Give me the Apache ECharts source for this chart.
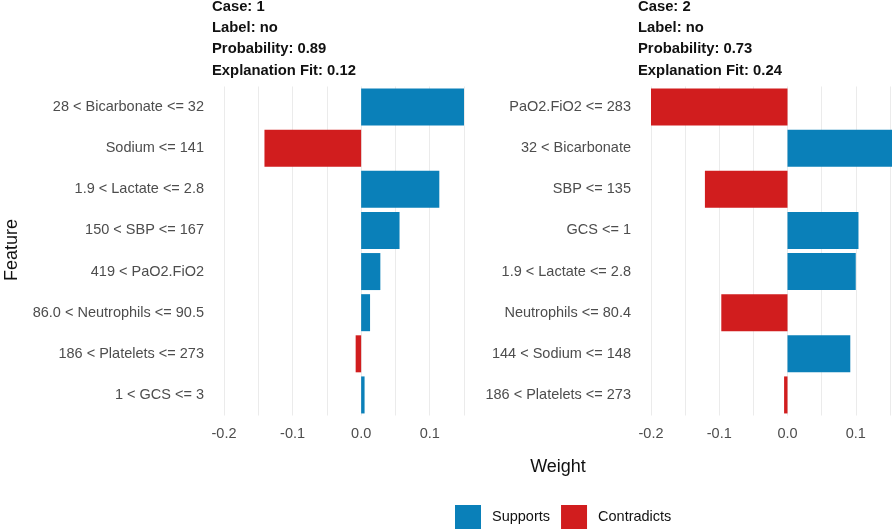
<!DOCTYPE html>
<html lang="en">
<head>
    <meta charset="UTF-8">
    <title>LIME explanations</title>
    <script src="https://cdn.jsdelivr.net/npm/echarts@6/dist/echarts.min.js"></script>
    <style>
        html, body { margin: 0; padding: 0; background: #fff; }
        #chart { width: 892px; height: 532px; }
    </style>
</head>
<body>
<div id="chart"></div>
<script>
    // case 1
    const case1Features = ['28 < Bicarbonate <= 32', 'Sodium <= 141', '1.9 < Lactate <= 2.8', '150 < SBP <= 167',
        '419 < PaO2.FiO2', '86.0 < Neutrophils <= 90.5', '186 < Platelets <= 273', '1 < GCS <= 3'];
    const case1Weights = [0.150, -0.141, 0.114, 0.056, 0.028, 0.013, -0.008, 0.005];
    const case1Title = ['Case: 1', 'Label: no', 'Probability: 0.89', 'Explanation Fit: 0.12'];

    // case 2
    const case2Features = ['PaO2.FiO2 <= 283', '32 < Bicarbonate', 'SBP <= 135', 'GCS <= 1',
        '1.9 < Lactate <= 2.8', 'Neutrophils <= 80.4', '144 < Sodium <= 148', '186 < Platelets <= 273'];
    const case2Weights = [-0.200, 0.155, -0.121, 0.104, 0.100, -0.097, 0.092, -0.005];
    const case2Title = ['Case: 2', 'Label: no', 'Probability: 0.73', 'Explanation Fit: 0.24'];

    const blue = '#0a80b9';
    const red = '#d11d1e';
    const font = '"Liberation Sans", Arial, sans-serif';

    const pos = w => w.map(v => v > 0 ? v : '-');
    const neg = w => w.map(v => v < 0 ? v : '-');

    function xAxisOf(idx, max) {
        return {
            gridIndex: idx, type: 'value', min: -0.2, max: max, interval: 0.05,
            axisLine: {show: false}, axisTick: {show: false},
            splitLine: {show: true, lineStyle: {color: '#ebebeb', width: 1}},
            axisLabel: {
                color: '#4d4d4d', fontSize: 14.5, fontFamily: font, margin: 11,
                // only every 0.1, and nothing past the picture edge
                formatter: v => (v < 0.15 && Math.round(Math.abs(v) * 100) % 10 === 0) ? v.toFixed(1) : ''
            }
        };
    }

    function yAxisOf(idx, cats) {
        return {
            gridIndex: idx, type: 'category', data: cats, inverse: true,
            axisLine: {show: false}, axisTick: {show: false}, splitLine: {show: false},
            axisLabel: {color: '#4d4d4d', fontSize: 14.5, fontFamily: font, margin: 20}
        };
    }

    function barOf(name, idx, data, color) {
        return {
            name: name, type: 'bar', xAxisIndex: idx, yAxisIndex: idx, stack: 'p' + idx,
            barCategoryGap: '10%', data: data, itemStyle: {color: color}, silent: true
        };
    }

    const titleStyle = {fontSize: 14.8, fontWeight: 'bold', color: '#111', lineHeight: 21.3, fontFamily: font};

    const chart = echarts.init(document.getElementById('chart'));
    chart.setOption({
        animation: false,
        textStyle: {fontFamily: font},
        title: [
            {text: case1Title.join('\n'), left: 212, top: -4, padding: 0, textStyle: titleStyle},
            {text: case2Title.join('\n'), left: 638, top: -4, padding: 0, textStyle: titleStyle}
        ],
        grid: [
            {left: 224, width: 240, top: 86.5, bottom: 116.5, outerBoundsMode: 'none'},
            {left: 651, width: 273, top: 86.5, bottom: 116.5, outerBoundsMode: 'none'}
        ],
        xAxis: [xAxisOf(0, 0.15), xAxisOf(1, 0.2)],
        yAxis: [yAxisOf(0, case1Features), yAxisOf(1, case2Features)],
        legend: {
            data: ['Supports', 'Contradicts'], left: 455, top: 505, padding: 0, icon: 'rect',
            itemWidth: 26, itemHeight: 24, itemGap: 11,
            textStyle: {fontSize: 14.5, color: '#111', fontFamily: font, padding: [0, 0, 0, 6]}
        },
        graphic: [
            {
                type: 'text', x: 12, y: 250, rotation: Math.PI / 2,
                style: {text: 'Feature', fontSize: 18, fill: '#111', fontFamily: font, textAlign: 'center', textVerticalAlign: 'middle'}
            },
            {
                type: 'text', x: 558, y: 467,
                style: {text: 'Weight', fontSize: 18, fill: '#111', fontFamily: font, textAlign: 'center', textVerticalAlign: 'middle'}
            }
        ],
        series: [
            barOf('Supports', 0, pos(case1Weights), blue),
            barOf('Contradicts', 0, neg(case1Weights), red),
            barOf('Supports', 1, pos(case2Weights), blue),
            barOf('Contradicts', 1, neg(case2Weights), red)
        ]
    });
</script>
</body>
</html>
